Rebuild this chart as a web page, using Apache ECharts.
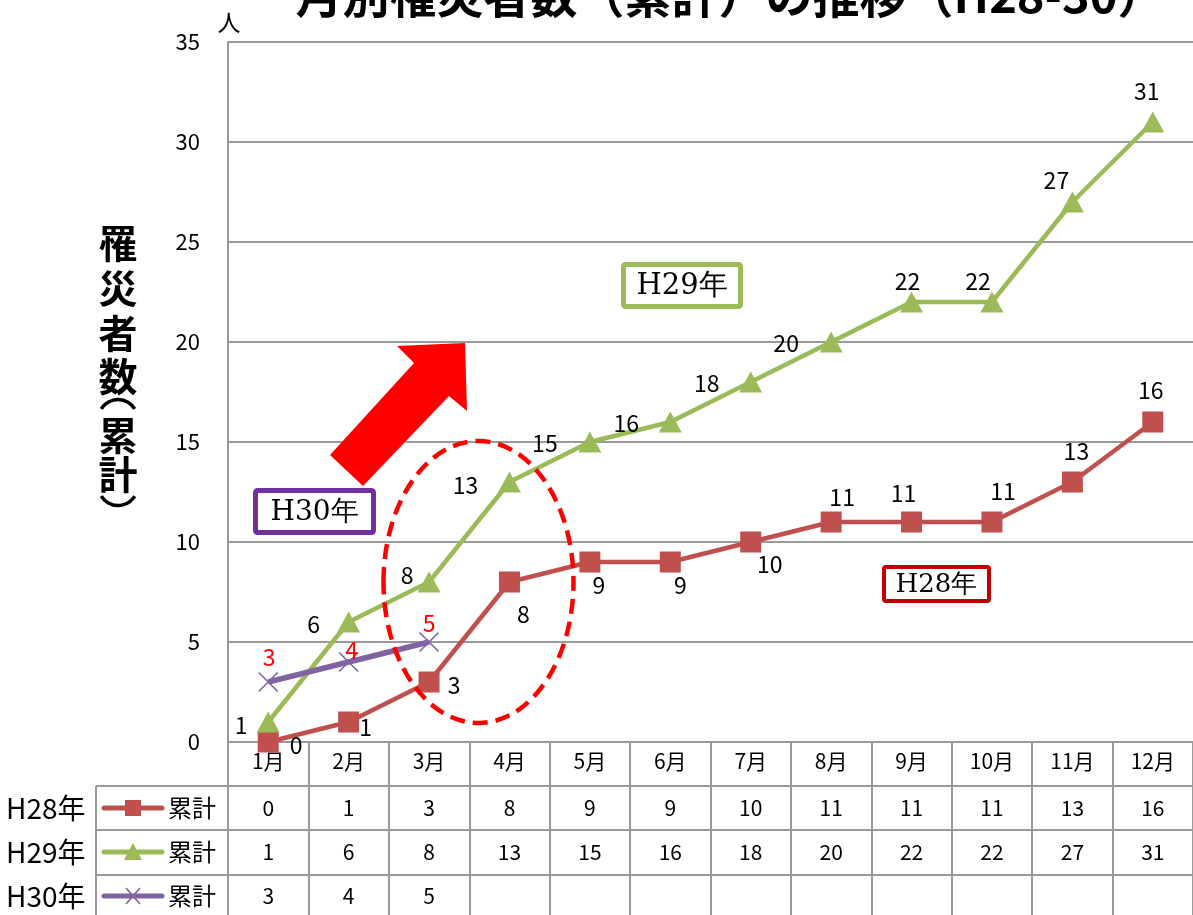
<!DOCTYPE html>
<html>
<head>
<meta charset="utf-8">
<script src="https://cdn.jsdelivr.net/npm/echarts@6/dist/echarts.min.js"></script>
<style>
html,body{margin:0;padding:0;background:#fff;}
#main{width:1193px;height:915px;}
</style>
</head>
<body>
<div id="main"></div>
<script>
// ---- data ----
const months = ['1月','2月','3月','4月','5月','6月','7月','8月','9月','10月','11月','12月'];
const h28 = [0,1,3,8,9,9,10,11,11,11,13,16];
const h29 = [1,6,8,13,15,16,18,20,22,22,27,31];
const h30 = [3,4,5];
const rowNames = ['H28年','H29年','H30年'];
const keyText = '累計';
const titleText = '月別罹災者数（累計）の推移（H28-30）';
const unitText = '人';
const yNameChars = ['罹','災','者','数','累','計'];

// ---- label placement (style, not data) ----
const h28Off = [[28,3],[17,5],[25,3],[14,32],[9,23],[10,23],[19,22],[11,-25],[-8,-29],[11,-31],[4,-31],[-2,-32]];
const h29Off = [[-27,3],[-35,2],[-22,-7],[-44,3],[-45,1],[-44,1],[-44,1],[-45,1],[-4,-21],[-14,-21],[-16,-22],[-6,-31]];
const h30Off = [[1,-25],[3,-12],[0,-19]];
const yNameY = [243,288,333,376,435,474];

const FONT = '"Noto Sans CJK JP", "Noto Sans", sans-serif';
const GRID = '#9a9a9a';
const C28 = '#c0504d', C29 = '#9bbb59', C30 = '#8064a2';
const CROSS = 'path://M0,0L10,10M10,0L0,10';

function mk(vals, offs, color){
  return vals.map((v,i)=>({value:v, label:{offset:offs[i], color:color}}));
}

const chart = echarts.init(document.getElementById('main'), null, {renderer:'canvas'});

const option = {
  backgroundColor:'#fff',
  animation:false,
  grid:{left:228, top:42, width:979, height:700, containLabel:false},
  xAxis:{
    type:'category', data:months, boundaryGap:true,
    axisLine:{show:true, lineStyle:{color:GRID, width:2}},
    axisTick:{show:true, interval:0, length:177, lineStyle:{color:GRID, width:2}},
    axisLabel:{interval:0, fontSize:21, color:'#000', margin:9, fontFamily:FONT},
    splitLine:{show:false}
  },
  yAxis:{
    type:'value', min:0, max:35, interval:5,
    axisLine:{show:true, lineStyle:{color:GRID, width:2}},
    axisTick:{show:false},
    axisLabel:{fontSize:22, color:'#000', margin:28, fontFamily:FONT},
    splitLine:{show:true, lineStyle:{color:GRID, width:2}}
  },
  series:[
    {
      name:rowNames[0], type:'line', data:mk(h28,h28Off,'#000'),
      symbol:'rect', symbolSize:21,
      lineStyle:{color:C28, width:4.5}, itemStyle:{color:C28},
      label:{show:true, position:'inside', fontSize:23, fontFamily:FONT, color:'#000'},
      z:3
    },
    {
      name:rowNames[1], type:'line', data:mk(h29,h29Off,'#000'),
      symbol:'triangle', symbolSize:[23,21],
      lineStyle:{color:C29, width:4.5}, itemStyle:{color:C29},
      label:{show:true, position:'inside', fontSize:23, fontFamily:FONT, color:'#000'},
      z:4
    },
    {
      name:rowNames[2], type:'line', data:mk(h30,h30Off,'#ff0000'),
      symbol:CROSS, symbolSize:19,
      lineStyle:{color:C30, width:5.5},
      itemStyle:{color:'rgba(0,0,0,0)', borderColor:C30, borderWidth:1.6},
      label:{show:true, position:'inside', fontSize:23, fontFamily:FONT, color:'#ff0000'},
      z:5
    }
  ]
};
chart.setOption(option);

// ---- graphics: title, unit, axis name, annotations, data table ----
const g = [];
g.push({type:'text', x:730, y:19, z:100, style:{text:titleText, font:'bold 47px '+FONT, fill:'#000', textAlign:'center', textVerticalAlign:'bottom'}});
g.push({type:'text', x:229, y:22, z:100, style:{text:unitText, font:'23px '+FONT, fill:'#000', textAlign:'center', textVerticalAlign:'middle'}});
yNameChars.forEach((ch,i)=>{
  g.push({type:'text', x:118, y:yNameY[i], z:100,
    style:{text:ch, font:'bold 39px '+FONT, fill:'#000', textAlign:'center', textVerticalAlign:'middle'}});
});
// vertical-form parentheses of the axis name, drawn as arcs
const DEG = Math.PI/180;
g.push({type:'arc', z:100, shape:{cx:118, cy:419, r:19.5, startAngle:211*DEG, endAngle:329*DEG, clockwise:true}, style:{stroke:'#000', lineWidth:3.5, fill:'none'}});
g.push({type:'arc', z:100, shape:{cx:118, cy:486, r:19.5, startAngle:31*DEG, endAngle:149*DEG, clockwise:true}, style:{stroke:'#000', lineWidth:3.5, fill:'none'}});

// arrow
g.push({type:'polygon', z:50, shape:{points:[[330,455],[414,363],[397,346],[465,343],[467,411],[449,396],[363,486]]}, style:{fill:'#ff0000'}});
// dashed ellipse
g.push({type:'ellipse', z:60, shape:{cx:478.5, cy:582, rx:95, ry:141}, style:{fill:'none', stroke:'#ff0000', lineWidth:4.5, lineDash:[15,8]}});

// labelled boxes
function box(x,y,w,h,color,lw,text,fs){
  g.push({type:'rect', z:70, shape:{x:x+lw/2, y:y+lw/2, width:w-lw, height:h-lw, r:2}, style:{fill:'#fff', stroke:color, lineWidth:lw}});
  g.push({type:'text', z:71, x:x+w/2, y:y+h/2+1, style:{text:text, font:fs+'px "DejaVu Serif", "Liberation Serif", serif', fill:'#000', textAlign:'center', textVerticalAlign:'middle'}});
}
box(621,262,122,47,C29,5,rowNames[1],29);
box(253,488,123,47,'#7030a0',5,rowNames[2],28);
box(882,565,109,38,'#c00000',4,rowNames[0],26);

// data table
const rowTop = [786,830,875];
const rowMid = [808,852,896];
const tableRight = 1193;
rowTop.forEach(y=>{
  g.push({type:'line', z:10, shape:{x1:96, y1:y, x2:tableRight, y2:y}, style:{stroke:GRID, lineWidth:2}});
});
g.push({type:'line', z:10, shape:{x1:96, y1:786, x2:96, y2:915}, style:{stroke:GRID, lineWidth:2}});

const tableData = [h28,h29,h30];
const colors = [C28,C29,C30];
rowNames.forEach((nm,r)=>{
  const y = rowMid[r];
  g.push({type:'text', z:20, x:6, y:y, style:{text:nm, font:'28px '+FONT, fill:'#000', textAlign:'left', textVerticalAlign:'middle'}});
  g.push({type:'line', z:20, shape:{x1:104, y1:y, x2:162, y2:y}, style:{stroke:colors[r], lineWidth:5, lineCap:'round'}});
  if(r===0){
    g.push({type:'rect', z:21, shape:{x:125, y:y-8, width:16, height:16}, style:{fill:C28}});
  } else if(r===1){
    g.push({type:'polygon', z:21, shape:{points:[[133,y-9],[124,y+8],[142,y+8]]}, style:{fill:C29}});
  } else {
    g.push({type:'polyline', z:21, shape:{points:[[126,y-8],[140,y+8]]}, style:{stroke:C30, lineWidth:1.6}});
    g.push({type:'polyline', z:21, shape:{points:[[140,y-8],[126,y+8]]}, style:{stroke:C30, lineWidth:1.6}});
  }
  g.push({type:'text', z:20, x:168, y:y, style:{text:keyText, font:'24px '+FONT, fill:'#000', textAlign:'left', textVerticalAlign:'middle'}});
  tableData[r].forEach((v,i)=>{
    const px = chart.convertToPixel({xAxisIndex:0}, i);
    g.push({type:'text', z:20, x:px, y:y, style:{text:String(v), font:'21px '+FONT, fill:'#000', textAlign:'center', textVerticalAlign:'middle'}});
  });
});

chart.setOption({graphic:{elements:g}});
</script>
</body>
</html>
